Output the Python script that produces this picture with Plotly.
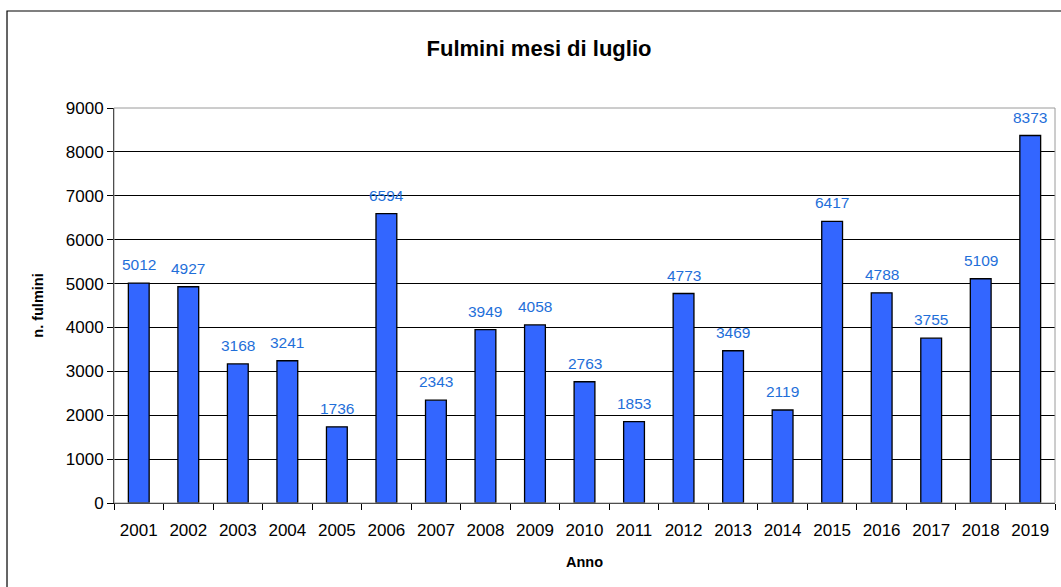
import plotly.graph_objects as go

anni = [str(a) for a in range(2001, 2020)]
fulmini = [5012, 4927, 3168, 3241, 1736, 6594, 2343, 3949, 4058, 2763,
           1853, 4773, 3469, 2119, 6417, 4788, 3755, 5109, 8373]
y_ticks = list(range(0, 9001, 1000))

FONT = "Liberation Sans, Arial, sans-serif"

fig = go.Figure()
fig.add_trace(go.Bar(
    x=anni, y=fulmini,
    marker=dict(color="#3366FF", line=dict(color="black", width=1.3)),
    width=0.42,
))

# value labels above the bars (x as category index)
for i, v in enumerate(fulmini):
    fig.add_annotation(x=i, y=v, text=str(v), showarrow=False,
                       yanchor="bottom", yshift=8,
                       font=dict(color="#1F6FD9", size=15.5, family=FONT))

# plot area border (grey) and outer chart frame
fig.add_shape(type="rect", xref="paper", yref="paper", x0=0, y0=0, x1=1, y1=1,
              line=dict(color="#9a9a9a", width=1), layer="above")
fig.add_shape(type="rect", xref="paper", yref="paper", x0=-0.1137, y0=-0.22,
              x1=1.1, y1=1.2456, line=dict(color="black", width=1.2))

fig.update_layout(
    width=1061, height=587,
    margin=dict(l=114, r=6, t=108, b=84),
    paper_bgcolor="white", plot_bgcolor="white",
    font=dict(family=FONT, size=17, color="black"),
    title=dict(text="<b>Fulmini mesi di luglio</b>", x=0.508, xanchor="center",
               y=0.918, yanchor="middle", font=dict(size=22, color="black")),
    showlegend=False,
    xaxis=dict(type="category", tickson="boundaries", ticks="outside", ticklen=6,
               tickcolor="black", showline=True, linecolor="black", linewidth=1,
               ticklabelstandoff=12, range=[-0.5, 18.5],
               title=dict(text="<b>Anno</b>", font=dict(size=14.5), standoff=17)),
    yaxis=dict(range=[0, 9000], tickvals=y_ticks, ticks="outside", ticklen=6,
               tickcolor="black", showline=True, linecolor="black", linewidth=1,
               showgrid=True, gridcolor="black", gridwidth=1, zeroline=False,
               title=dict(text="<b>n. fulmini</b>", font=dict(size=14.5), standoff=18)),
)

fig.write_html("out.html", config={"displayModeBar": False},
               post_script="document.body.style.margin='0';")
